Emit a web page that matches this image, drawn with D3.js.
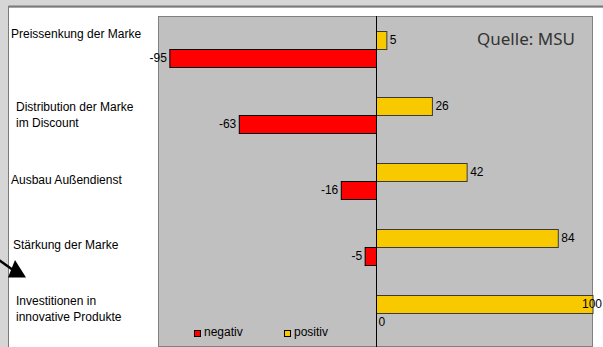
<!DOCTYPE html>
<html>
<head>
<meta charset="utf-8">
<script src="https://cdn.jsdelivr.net/npm/d3@7"></script>
<style>
  body { margin: 0; background: #d6d6d6; }
  svg { display: block; font-family: "Liberation Sans", Arial, sans-serif; }
</style>
</head>
<body>
<div id="chart"></div>
<script>
// data
const categories = [
  "Preissenkung der Marke",
  "Distribution der Marke im Discount",
  "Ausbau Außendienst",
  "Stärkung der Marke",
  "Investitionen in innovative Produkte"
];
const categoryLines = [
  ["Preissenkung der Marke"],
  ["Distribution der Marke", "im Discount"],
  ["Ausbau Außendienst"],
  ["Stärkung der Marke"],
  ["Investitionen in", "innovative Produkte"]
];
const negativ = [-95, -63, -16, -5, 0];
const positiv = [5, 26, 42, 84, 100];
const seriesNames = ["negativ", "positiv"];
const source = "Quelle: MSU";

const W = 603, H = 347;
const colors = { negativ: "#ff0000", positiv: "#f9c900" };
const plot = { left: 158, right: 592, top: 16, bottom: 346 };
// where the free-floating category text boxes sit
const labelX = [11, 16, 11, 13, 16];
const labelDy = [-11, -4, 3, 2, -8];

const svg = d3.select("#chart").append("svg")
  .attr("width", W).attr("height", H);

// white panel with a dark edge on top/left
svg.append("rect").attr("x", 0).attr("y", 0).attr("width", W).attr("height", H).attr("fill", "#d6d6d6");
svg.append("rect").attr("x", 9).attr("y", 8).attr("width", W - 9).attr("height", H - 8).attr("fill", "#fff");
svg.append("line").attr("x1", 8.5).attr("x2", W).attr("y1", 6.5).attr("y2", 6.5).attr("stroke", "#7a7a7a").attr("stroke-width", 2);
svg.append("line").attr("x1", 8.5).attr("x2", 8.5).attr("y1", 6).attr("y2", H).attr("stroke", "#7a7a7a").attr("stroke-width", 1);

const x = d3.scaleLinear().domain([-100, 100]).range([159, 593]);
const y = d3.scaleBand().domain(categories).range([plot.top, plot.bottom]);
const barH = y.bandwidth() * 0.28;
const mid = c => y(c) + y.bandwidth() / 2;
const x0 = Math.round(x(0)) + 0.5;

// plot area
svg.append("rect")
  .attr("x", plot.left + 0.5).attr("y", plot.top + 0.5)
  .attr("width", plot.right - plot.left).attr("height", plot.bottom - plot.top)
  .attr("fill", "#c0c0c0").attr("stroke", "#808080");

// source note
svg.append("text")
  .attr("x", 477).attr("y", 45)
  .style("font-family", "'Noto Sans', sans-serif").style("font-size", "17px")
  .attr("fill", "#333").text(source);

// bars
const g = svg.append("g");
g.selectAll(".pos").data(positiv).join("rect")
  .attr("class", "pos")
  .attr("x", x0)
  .attr("y", (d, i) => Math.round(mid(categories[i]) - barH) + 0.5)
  .attr("width", d => x(d) - x0)
  .attr("height", Math.round(barH))
  .attr("fill", colors.positiv).attr("stroke", "#3a3a3a");

g.selectAll(".neg").data(negativ).join("rect")
  .attr("class", "neg")
  .attr("x", d => x(d))
  .attr("y", (d, i) => Math.round(mid(categories[i])) + 0.5)
  .attr("width", d => x0 - x(d))
  .attr("height", Math.round(barH))
  .attr("fill", colors.negativ).attr("stroke", "#000")
  .style("display", d => d === 0 ? "none" : null);

// zero line
svg.append("line")
  .attr("x1", x0).attr("x2", x0).attr("y1", plot.top).attr("y2", H)
  .attr("stroke", "#000");

// value labels
svg.selectAll(".lp").data(positiv).join("text")
  .attr("x", d => Math.min(x(d) + 3, 582))
  .attr("y", (d, i) => mid(categories[i]) - barH / 2 + 4)
  .style("font-size", "12px").text(d => d);

svg.selectAll(".ln").data(negativ).join("text")
  .attr("x", d => d === 0 ? x0 + 2 : x(d) - 3)
  .attr("y", (d, i) => mid(categories[i]) + barH / 2 + 4)
  .attr("text-anchor", d => d === 0 ? "start" : "end")
  .style("font-size", "12px").text(d => d);

// category labels
categoryLines.forEach((lines, i) => {
  const t = svg.append("text")
    .attr("x", labelX[i])
    .attr("y", mid(categories[i]) + labelDy[i])
    .style("font-size", "12px");
  lines.forEach((s, j) => {
    t.append("tspan").attr("x", labelX[i]).attr("dy", j ? 16 : 0).text(s);
  });
});

// legend
const leg = svg.append("g").attr("transform", "translate(194,330)");
seriesNames.forEach((n, i) => {
  const lg = leg.append("g").attr("transform", `translate(${i * 90},0)`);
  lg.append("rect").attr("x", 0.5).attr("y", 0.5).attr("width", 6).attr("height", 6)
    .attr("fill", colors[n]).attr("stroke", "#000");
  lg.append("text").attr("x", 10).attr("y", 6).style("font-size", "12px").text(n);
});

// arrow pointing at the last category
svg.append("line").attr("x1", -4).attr("y1", 258).attr("x2", 13).attr("y2", 270)
  .attr("stroke", "#000").attr("stroke-width", 2.5);
svg.append("path").attr("d", "M26,277.5 L15,260 L8,277.5 Z").attr("fill", "#000");
</script>
</body>
</html>
